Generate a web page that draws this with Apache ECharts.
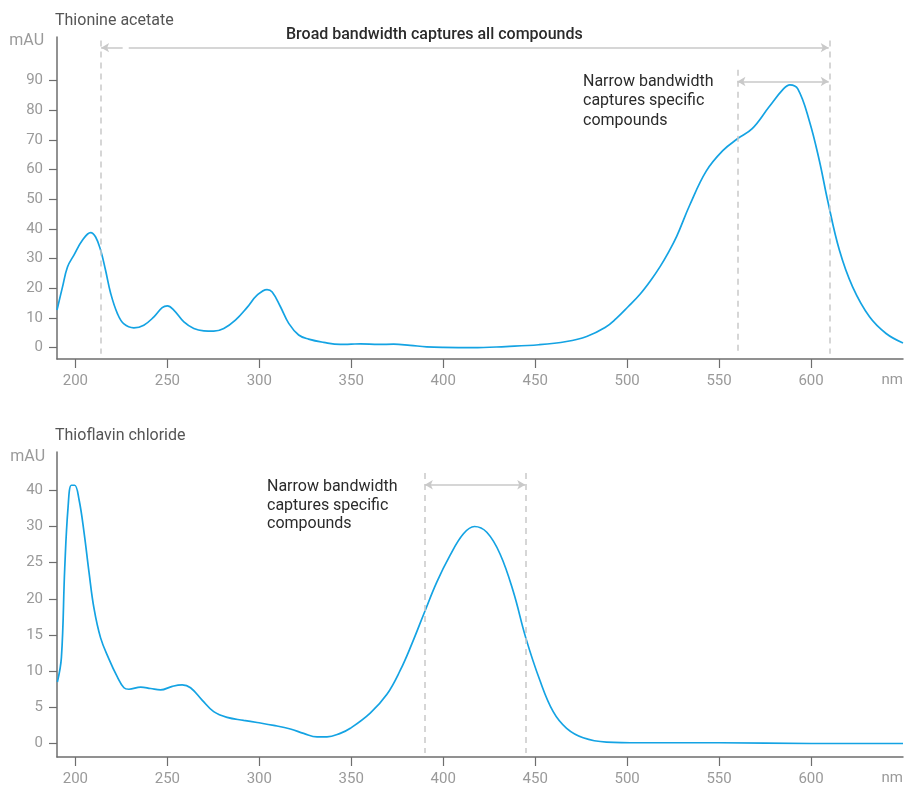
<!DOCTYPE html>
<html>
<head>
<meta charset="utf-8">
<title>UV-Vis absorbance spectra</title>
<script src="https://cdn.jsdelivr.net/npm/echarts@6/dist/echarts.min.js"></script>
<style>
  html, body { margin: 0; padding: 0; background: #ffffff; }
  #chart { width: 909px; height: 787px; }
</style>
</head>
<body>
<div id="chart"></div>
<script>
// Thionine acetate absorbance spectrum (wavelength in nm, absorbance in mAU)
const thionineNm = [190, 193, 195.7, 199.2, 203.8, 208.3, 211, 213.7, 216.4, 219.2, 222.8, 226.4,
  231.8, 237.2, 242.7, 247.2, 250, 253.5, 259, 264.4, 269.8, 275.2, 280.7, 287, 293.4, 298.8,
  304.2, 307, 311.5, 316, 321.4, 326.8, 335, 344, 350, 355, 365, 373, 382, 391, 400, 416, 434,
  452, 467, 478, 488, 494, 500.5, 507, 513, 518, 522, 527, 534, 543, 552, 560, 568, 577, 585, 588.5,
  592.8, 599, 604.5, 609, 615.4, 622.6, 631.8, 640.8, 650];
const thionineMau = [12.7, 20.5, 27.2, 31.2, 36.2, 38.8, 37.3, 32.9, 26.1, 18.3, 11.6, 8.0,
  6.7, 7.6, 10.4, 13.5, 14.1, 12.7, 8.7, 6.5, 5.7, 5.6, 6.5, 9.3, 13.6, 17.7,
  19.6, 18.8, 13.8, 8.2, 4.3, 2.9, 1.8, 1.1, 1.2, 1.3, 1.1, 1.2, 0.8, 0.3, 0.1, 0.0, 0.4,
  1.0, 2.1, 3.8, 6.8, 9.8, 13.8, 18.0, 22.8, 27.4, 31.6, 37.6, 48.0, 59.5, 66.4, 70.4, 73.8, 81.0, 87.2, 88.6,
  87.2, 76.6, 63.1, 49.7, 32.9, 20.5, 10.4, 4.8, 1.6];

// Thioflavin chloride absorbance spectrum
const thioflavinNm = [190.2, 192.4, 194.2, 196, 197.8, 199.6, 202, 204.7, 207.4, 210.1, 213.7,
  218.2, 222.8, 226.4, 229.1, 235.5, 240.9, 246.3, 252.7, 258.1, 262.6, 268.9, 275.2, 282.5,
  291.5, 298.8, 307.8, 316.9, 324.1, 331.4, 336.8, 344, 349.5, 360.3, 369.4, 376.6, 383, 389.6,
  396.5, 403.7, 411, 417, 423.7, 430.9, 438.1, 444.9, 452.6, 459.8, 467.1, 476.1, 488.8, 507,
  550, 600, 650];
const thioflavinMau = [8.5, 11.9, 24.2, 32.6, 35.7, 35.7, 33.7, 29.2, 23.7, 18.7, 14.6,
  11.7, 9.2, 7.7, 7.5, 7.8, 7.6, 7.4, 7.9, 8.1, 7.7, 6.0, 4.4, 3.6,
  3.2, 2.9, 2.5, 2.0, 1.4, 0.9, 0.9, 1.4, 2.1, 4.2, 6.8, 10.1, 13.8, 18.0,
  22.3, 26.0, 29.0, 30.0, 29.2, 26.2, 21.0, 14.6, 8.7, 4.4, 2.1, 0.8, 0.2, 0.1,
  0.1, 0.0, 0.0];

// Axis ticks
const wavelengthTicks = [200, 250, 300, 350, 400, 450, 500, 550, 600];
const thionineTicks = [0, 10, 20, 30, 40, 50, 60, 70, 80, 90];
const thioflavinTicks = [0, 5, 10, 15, 20, 25, 30, 35];
const thioflavinTickLabels = ['0', '5', '10', '15', '20', '25', '30', '40'];

// Bandwidth windows (nm)
const broadBand = [214, 610];
const narrowBandTop = [560, 610];
const narrowBandBottom = [390, 445];

const LINE_COLOR = '#14a3e3';
const GUIDE_COLOR = '#c9c9c9';
const AXIS_COLOR = '#6e6e6e';
const LABEL_COLOR = '#9a9a9a';
const FONT = 'Roboto, "Noto Sans", sans-serif';

function pairs(xs, ys) { return xs.map((x, i) => [x, ys[i]]); }

function xAxisFor(gridIndex) {
  return {
    type: 'value', gridIndex, min: 190, max: 650,
    axisLine: { show: true, onZero: false, lineStyle: { color: AXIS_COLOR, width: 1.5 } },
    axisTick: { show: true, length: 9, customValues: wavelengthTicks, lineStyle: { color: AXIS_COLOR, width: 1.2 } },
    axisLabel: { customValues: wavelengthTicks, margin: 15, color: LABEL_COLOR, fontSize: 15, fontFamily: FONT },
    splitLine: { show: false }
  };
}

function yAxisFor(gridIndex, min, max, ticks, formatter) {
  return {
    type: 'value', gridIndex, min, max,
    axisLine: { show: true, onZero: false, lineStyle: { color: AXIS_COLOR, width: 1.5 } },
    axisTick: { show: true, length: 8, customValues: ticks, lineStyle: { color: AXIS_COLOR, width: 1.2 } },
    axisLabel: { customValues: ticks, margin: 14, color: LABEL_COLOR, fontSize: 15, fontFamily: FONT, formatter },
    splitLine: { show: false }
  };
}

function dashedGuide(x, yTop, yBottom) {
  return [
    { coord: [x, yTop], symbol: 'none' },
    { coord: [x, yBottom], symbol: 'none' }
  ];
}

function arrowSegment(x1, x2, y, startArrow, endArrow) {
  return [
    { coord: [x1, y], symbol: startArrow ? 'arrow' : 'none', symbolSize: [7, 8] },
    { coord: [x2, y], symbol: endArrow ? 'arrow' : 'none', symbolSize: [7, 8] }
  ];
}

const chart = echarts.init(document.getElementById('chart'), null, { renderer: 'canvas' });

const textStyleBase = { fontFamily: FONT, fontSize: 16 };

chart.setOption({
  animation: false,
  backgroundColor: '#ffffff',
  grid: [
    { left: 57, right: 6, top: 37, height: 322, containLabel: false },
    { left: 57, right: 6, top: 452, height: 309, containLabel: false }
  ],
  xAxis: [xAxisFor(0), xAxisFor(1)],
  yAxis: [
    yAxisFor(0, -3.8, 104.7, thionineTicks),
    yAxisFor(1, -1.87, 40.3, thioflavinTicks, (v) => thioflavinTickLabels[thioflavinTicks.indexOf(v)] ?? '')
  ],
  series: [
    {
      name: 'Thionine acetate', type: 'line', xAxisIndex: 0, yAxisIndex: 0,
      data: pairs(thionineNm, thionineMau),
      smooth: 0.4, showSymbol: false, silent: true,
      lineStyle: { color: LINE_COLOR, width: 1.7 },
      markLine: {
        silent: true, animation: false,
        label: { show: false },
        lineStyle: { color: GUIDE_COLOR, width: 1.5, type: [6, 5] },
        data: [
          dashedGuide(broadBand[0], 103.5, -2),
          dashedGuide(broadBand[1], 103.5, -2),
          dashedGuide(narrowBandTop[0], 93.7, -2)
        ]
      }
    },
    {
      name: 'Thionine acetate bandwidths', type: 'line', xAxisIndex: 0, yAxisIndex: 0,
      data: [], silent: true,
      markLine: {
        silent: true, animation: false,
        label: { show: false },
        lineStyle: { color: GUIDE_COLOR, width: 1.5, type: 'solid' },
        data: [
          arrowSegment(broadBand[0], 225.7, 101.1, true, false),
          arrowSegment(229, broadBand[1] - 0.4, 101.1, false, true),
          arrowSegment(narrowBandTop[0], narrowBandTop[1] - 0.4, 89.7, true, true)
        ]
      }
    },
    {
      name: 'Thioflavin chloride', type: 'line', xAxisIndex: 1, yAxisIndex: 1,
      data: pairs(thioflavinNm, thioflavinMau),
      smooth: 0.4, showSymbol: false, silent: true,
      lineStyle: { color: LINE_COLOR, width: 1.7 },
      markLine: {
        silent: true, animation: false,
        label: { show: false },
        lineStyle: { color: GUIDE_COLOR, width: 1.5, type: [6, 5] },
        data: [
          dashedGuide(narrowBandBottom[0], 37.4, -1.3),
          dashedGuide(narrowBandBottom[1], 37.4, -1.3)
        ]
      }
    },
    {
      name: 'Thioflavin chloride bandwidth', type: 'line', xAxisIndex: 1, yAxisIndex: 1,
      data: [], silent: true,
      markLine: {
        silent: true, animation: false,
        label: { show: false },
        lineStyle: { color: GUIDE_COLOR, width: 1.5, type: 'solid' },
        data: [
          arrowSegment(narrowBandBottom[0], narrowBandBottom[1] - 0.4, 35.77, true, true)
        ]
      }
    }
  ],
  graphic: [
    { type: 'text', left: 55, top: 13, style: { ...textStyleBase, text: 'Thionine acetate', fill: '#555555' } },
    { type: 'text', right: 865, top: 33, style: { ...textStyleBase, text: 'mAU', fill: LABEL_COLOR, align: 'right' } },
    { type: 'text', right: 6, top: 373, style: { ...textStyleBase, fontSize: 15, text: 'nm', fill: LABEL_COLOR } },
    { type: 'text', left: 286, top: 27, style: { ...textStyleBase, text: 'Broad bandwidth captures all compounds', fill: '#2b2b2b', fontWeight: 500 } },
    { type: 'text', left: 583, top: 72, style: { ...textStyleBase, text: 'Narrow bandwidth\ncaptures specific\ncompounds', fill: '#2b2b2b', lineHeight: 19.5 } },

    { type: 'text', left: 55, top: 428, style: { ...textStyleBase, text: 'Thioflavin chloride', fill: '#555555' } },
    { type: 'text', right: 864, top: 449, style: { ...textStyleBase, text: 'mAU', fill: LABEL_COLOR, align: 'right' } },
    { type: 'text', right: 6, top: 771, style: { ...textStyleBase, fontSize: 15, text: 'nm', fill: LABEL_COLOR } },
    { type: 'text', left: 267, top: 478, style: { ...textStyleBase, text: 'Narrow bandwidth\ncaptures specific\ncompounds', fill: '#2b2b2b', lineHeight: 18.5 } }
  ]
});
</script>
</body>
</html>
